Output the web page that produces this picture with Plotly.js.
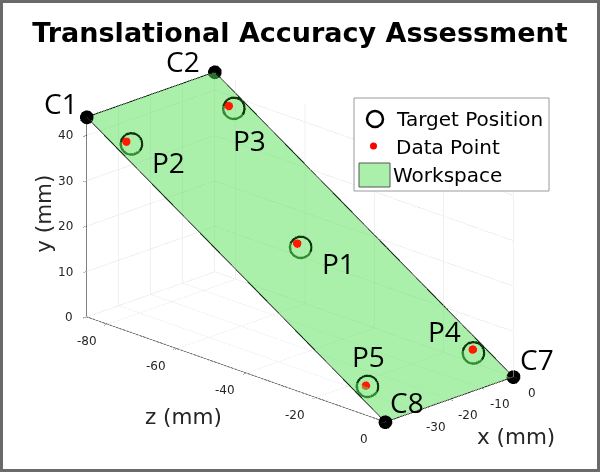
<!DOCTYPE html>
<html>
<head>
<meta charset="utf-8">
<script src="https://cdn.plot.ly/plotly-3.0.1.min.js"></script>
<style>
html,body{margin:0;padding:0;background:#fff;}
#wrap{position:relative;width:600px;height:472px;}
#chart{width:600px;height:472px;}
#frame{position:absolute;left:0;top:0;width:594px;height:466px;border:3px solid #6a6a6a;pointer-events:none;}
</style>
</head>
<body>
<div id="wrap"><div id="chart"></div><div id="frame"></div></div>
<script>
// Workspace corners (mm)
const cornerNames = ['C1', 'C2', 'C7', 'C8'];
const cornerX = [-40, 0, 0, -40];
const cornerY = [44, 44, 0, 0];
const cornerZ = [-86, -86, 0, 0];

// Target positions (mm)
const targetNames = ['P1', 'P2', 'P3', 'P4', 'P5'];
const targetX = [-20, -36, -4, -4, -36];
const targetY = [22, 39.6, 39.5, 4.2, 4.5];
const targetZ = [-43, -77, -77, -8, -9];

// Measured data points (mm)
const dataX = [-20.9, -37.4, -5.4, -4.0, -36.3];
const dataY = [23.0, 40.4, 40.3, 4.9, 4.7];
const dataZ = [-43, -77, -77, -8, -9];

// Axis ticks
const xTicks = [-30, -20, -10, 0];
const yTicks = [0, 10, 20, 30, 40];
const zTicks = [-80, -60, -40, -20, 0];

const xRange = [-40, 0], yRange = [0, 44], zRange = [-86, 0];

const outline = [0, 1, 2, 3, 0];

const traces = [
  {
    type: 'mesh3d', name: 'Workspace',
    x: cornerX, y: cornerY, z: cornerZ,
    i: [0, 0], j: [1, 2], k: [2, 3],
    color: 'rgb(86,226,86)', opacity: 0.5, flatshading: true,
    lighting: {ambient: 1, diffuse: 0, specular: 0, roughness: 1, fresnel: 0},
    hoverinfo: 'skip', showlegend: false
  },
  {
    type: 'scatter3d', mode: 'lines',
    x: outline.map(i => cornerX[i]), y: outline.map(i => cornerY[i]), z: outline.map(i => cornerZ[i]),
    line: {color: '#1a2a1a', width: 2}, hoverinfo: 'skip', showlegend: false
  },
  {
    type: 'scatter3d', mode: 'markers', name: 'Target Position',
    x: targetX, y: targetY, z: targetZ,
    marker: {symbol: 'circle-open', size: 13.5, color: '#0d380d'},
    hoverinfo: 'skip', showlegend: false
  },
  {
    type: 'scatter3d', mode: 'markers', name: 'Data Point',
    x: dataX, y: dataY, z: dataZ,
    marker: {symbol: 'circle', size: 5, color: '#ff1a00'},
    hoverinfo: 'skip', showlegend: false
  },
  {
    type: 'scatter3d', mode: 'markers',
    x: cornerX, y: cornerY, z: cornerZ,
    marker: {symbol: 'circle', size: 8, color: '#000'},
    hoverinfo: 'skip', showlegend: false
  }
];

const labelFont = {family: 'Open Sans, sans-serif', size: 28, color: '#000'};
const tickFont = {family: 'DejaVu Sans, sans-serif', size: 12, color: '#262626'};
const titleFont = {family: 'DejaVu Sans, sans-serif', size: 21.5, color: '#262626'};
const cornerShift = {C1: [-26, 14], C2: [-32, 11], C7: [24, 18], C8: [22, 20]};
const targetShift = {P1: [38, -16], P2: [38, -18], P3: [16, -32], P4: [-28, 22], P5: [2, 30]};

const annotations = [];
cornerNames.forEach((n, i) => annotations.push({
  x: cornerX[i], y: cornerY[i], z: cornerZ[i], text: n, showarrow: false,
  xshift: cornerShift[n][0], yshift: cornerShift[n][1], font: labelFont
}));
targetNames.forEach((n, i) => annotations.push({
  x: targetX[i], y: targetY[i], z: targetZ[i], text: n, showarrow: false,
  xshift: targetShift[n][0], yshift: targetShift[n][1], font: labelFont
}));
// Tick labels (horizontal, MATLAB style)
yTicks.forEach(v => annotations.push({
  x: xRange[0], y: v, z: zRange[0], text: String(v), showarrow: false,
  xanchor: 'right', xshift: -12, yshift: 0, font: tickFont
}));
zTicks.forEach(v => annotations.push({
  x: xRange[0], y: yRange[0], z: v, text: String(v), showarrow: false,
  xshift: -21, yshift: -17, font: tickFont
}));
xTicks.forEach(v => annotations.push({
  x: v, y: yRange[0], z: zRange[1], text: String(v), showarrow: false,
  xshift: 19, yshift: -16, font: tickFont
}));
// Axis titles
annotations.push({x: xRange[0], y: (yRange[0] + yRange[1]) / 2, z: zRange[0], text: 'y (mm)', showarrow: false,
  textangle: -90, xshift: -44, yshift: 3, font: titleFont});
annotations.push({x: xRange[0], y: yRange[0], z: (zRange[0] + zRange[1]) / 2, text: 'z (mm)', showarrow: false,
  xshift: -52, yshift: -47, font: titleFont});
annotations.push({x: (xRange[0] + xRange[1]) / 2, y: yRange[0], z: zRange[1], text: 'x (mm)', showarrow: false,
  xshift: 67, yshift: -37, font: titleFont});

const axisBase = {
  showbackground: false, gridcolor: '#e2e2e2', gridwidth: 1,
  showline: true, linecolor: '#555', linewidth: 1.5,
  ticks: 'outside', ticklen: 5, tickcolor: '#555',
  showticklabels: false,
  showspikes: false, zeroline: false,
  title: {text: ''}
};

const W = 600, H = 472;
const px = v => v / W, py = v => 1 - v / H;
const eyeScale = 2.2;
const zoom = 1.02;
const legendFont = {family: 'DejaVu Sans, sans-serif', size: 20, color: '#000'};

const layout = {
  width: W, height: H,
  margin: {l: 0, r: 0, t: 0, b: 0},
  paper_bgcolor: '#fff',
  hovermode: false,
  showlegend: false,
  title: {text: '<b>Translational Accuracy Assessment</b>', x: 0.5, xanchor: 'center', y: 1 - 33 / H, yanchor: 'middle',
          font: {family: 'DejaVu Sans, sans-serif', size: 27, color: '#000'}},
  scene: {
    domain: {x: [0, 1], y: [0, 0.953]},
    aspectmode: 'manual',
    aspectratio: {x: 0.789 * zoom, y: 0.93 * zoom, z: 1.84 * zoom},
    camera: {
      projection: {type: 'orthographic'},
      up: {x: 0, y: 1, z: 0},
      center: {x: 0, y: 0, z: 0},
      eye: {x: -0.662 * eyeScale, y: 0.352 * eyeScale, z: 0.662 * eyeScale}
    },
    xaxis: Object.assign({}, axisBase, {range: xRange, tickvals: xTicks}),
    yaxis: Object.assign({}, axisBase, {range: yRange, tickvals: yTicks}),
    zaxis: Object.assign({}, axisBase, {range: zRange, tickvals: zTicks}),
    annotations: annotations
  },
  shapes: [
    {type: 'rect', xref: 'paper', yref: 'paper', x0: px(354), x1: px(549), y0: py(191), y1: py(98),
     fillcolor: '#fff', line: {color: '#9a9a9a', width: 1}},
    {type: 'circle', xref: 'paper', yref: 'paper', x0: px(367), x1: px(383), y0: py(127), y1: py(111),
     fillcolor: 'rgba(0,0,0,0)', line: {color: '#000', width: 2.5}},
    {type: 'circle', xref: 'paper', yref: 'paper', x0: px(370), x1: px(377), y0: py(149.5), y1: py(142.5),
     fillcolor: '#ff0000', line: {color: '#ff0000', width: 0}},
    {type: 'rect', xref: 'paper', yref: 'paper', x0: px(359), x1: px(390), y0: py(187), y1: py(163),
     fillcolor: 'rgb(170,240,170)', line: {color: '#555', width: 1}}
  ],
  annotations: [
    {xref: 'paper', yref: 'paper', x: px(394), y: py(119), xanchor: 'left', yanchor: 'middle', showarrow: false,
     text: 'Target Position', font: legendFont},
    {xref: 'paper', yref: 'paper', x: px(394), y: py(147), xanchor: 'left', yanchor: 'middle', showarrow: false,
     text: 'Data Point', font: legendFont},
    {xref: 'paper', yref: 'paper', x: px(391), y: py(175), xanchor: 'left', yanchor: 'middle', showarrow: false,
     text: 'Workspace', font: legendFont}
  ]
};

Plotly.newPlot('chart', traces, layout, {displayModeBar: false, plotGlPixelRatio: 1});
</script>
</body>
</html>
